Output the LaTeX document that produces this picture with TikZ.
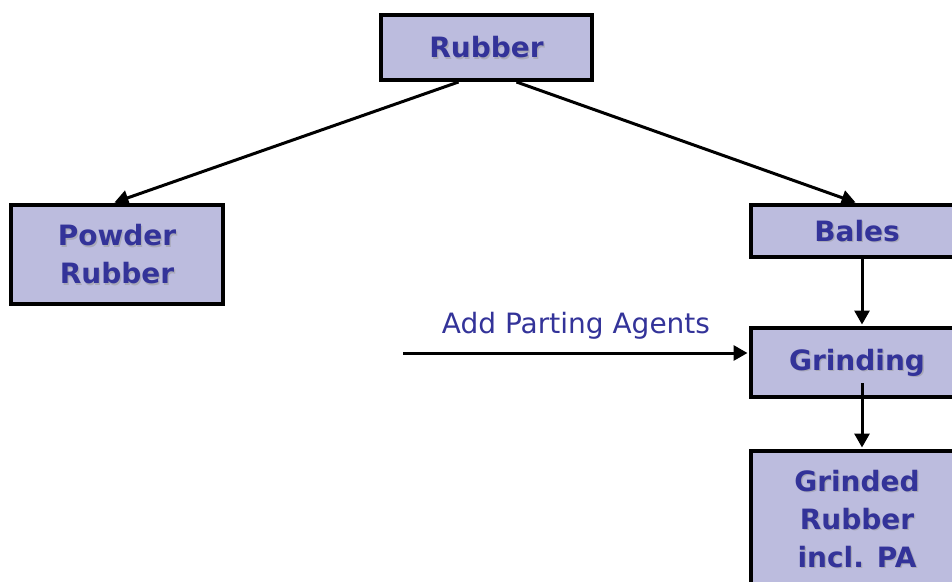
\documentclass[tikz,border=0pt]{standalone}
\usepackage{fontspec}
\setmainfont{DejaVu Sans}
\usetikzlibrary{arrows.meta,calc}
\definecolor{boxfill}{HTML}{BCBCDE}
\definecolor{boxtext}{HTML}{333399}
\definecolor{shadowgray}{HTML}{A8A8B8}
\tikzset{
  boxfont/.style={font=\fontsize{28}{38}\selectfont\bfseries, align=center},
  procbox/.style={
    draw=black, line width=4pt, fill=boxfill, text=boxtext,
    boxfont, inner sep=0pt,
    node contents={#1},
    path picture={
      \node[boxfont, text=shadowgray, inner sep=0pt]
        at ($(path picture bounding box.center)+(1.3,1.3)$) {#1};
    }
  },
  flow/.style={line width=3pt, shorten >=1.5pt, -{Triangle[length=14pt,width=15pt]}},
}
\begin{document}
\begin{tikzpicture}[x=1pt, y=-1pt]
  \useasboundingbox (0,0) rectangle (952,581);

  % process boxes
  \node[name=rubber, at={(486.5,47.5)}, minimum width=211pt, minimum height=65pt,
        procbox={Rubber}];
  \node[name=powder, at={(117,254.5)}, minimum width=212pt, minimum height=99pt,
        procbox={Powder\\Rubber}];
  \node[name=bales, at={(857,231)}, minimum width=212pt, minimum height=52pt,
        procbox={Bales}];
  \node[name=grinding, at={(857,362.5)}, minimum width=212pt, minimum height=69pt,
        procbox={Grinding}];
  \node[name=grinded, at={(857,519)}, minimum width=212pt, minimum height=136pt,
        procbox={Grinded\\Rubber\\incl. PA}];

  % connectors
  \draw[flow] ($(rubber.south)+(-28,0)$) -- ($(powder.north)+(-4,0)$);
  \draw[flow] ($(rubber.south)+(30,0)$) -- (bales.north);
  \draw[flow] ($(bales.south)+(5,0)$) -- ($(grinding.north)+(5,0)$);

  \coordinate (agentsin) at (403,353);
  \draw[flow] (agentsin) -- (agentsin -| grinding.west)
    node[pos=0.5, above=9pt, font=\fontsize{28}{34}\selectfont, text=boxtext] (agents) {Add Parting Agents};

  \coordinate (grindout) at ($(grinding.south)+(5,-16)$);
  \draw[flow] (grindout) -- ($(grinded.north)+(5,0)$);
\end{tikzpicture}
\end{document}
